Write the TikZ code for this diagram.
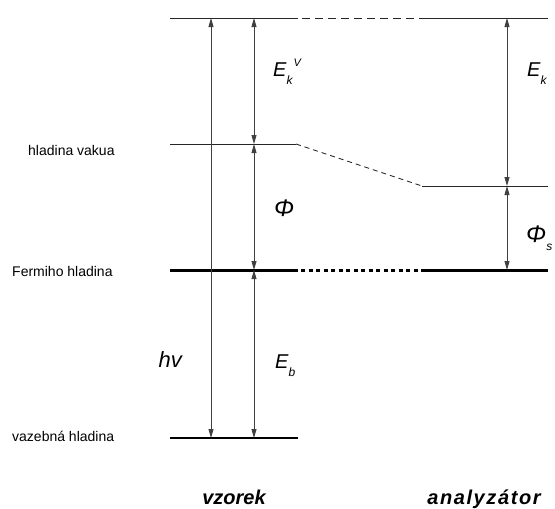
\documentclass[tikz,border=0pt]{standalone}
\usepackage{fontspec}
\setmainfont{Liberation Sans}
\usetikzlibrary{arrows.meta,calc}
\newcommand{\lowidx}[1]{\raisebox{-8pt}{\fontsize{12}{12}\selectfont #1}}
\newcommand{\highidx}[1]{\raisebox{10pt}{\fontsize{11}{11}\selectfont #1}}
\begin{document}
\begin{tikzpicture}[
  x=1pt,y=-1pt,>={Triangle[length=9pt,width=5pt]},
  level/.style={line width=0.9pt,black!85},
  fermi/.style={line width=3pt,black},
  bind/.style={line width=2pt,black},
  linkdash/.style={level,dash pattern=on 8pt off 5pt},
  linkslope/.style={level,dash pattern=on 5pt off 4pt},
  linkdot/.style={fermi,dash pattern=on 4pt off 3.5pt},
  gap/.style={<->,line width=0.8pt,black!75},
  lvl/.style={font=\fontsize{14}{16}\selectfont,anchor=base west,inner sep=0pt},
  sym/.style={font=\fontsize{20}{24}\selectfont\itshape,anchor=base west,inner sep=0pt},
  bigsym/.style={sym,font=\fontsize{24}{28}\selectfont\itshape},
  side/.style={font=\fontsize{20}{24}\selectfont\bfseries\itshape,anchor=base,inner sep=0pt}
]
  \useasboundingbox (0,0) rectangle (555,509);

  % energy levels
  \coordinate (topL)  at (170,18);  \coordinate (topLe) at (298,18);
  \coordinate (topR)  at (420,18);  \coordinate (topRe) at (548,18);
  \coordinate (vacL)  at (170,144); \coordinate (vacLe) at (296,144);
  \coordinate (vacR)  at (422,186); \coordinate (vacRe) at (548,186);
  \coordinate (ferL)  at (170,270); \coordinate (ferLe) at (298,270);
  \coordinate (ferR)  at (422,270); \coordinate (ferRe) at (548,270);
  \coordinate (bindL) at (170,438); \coordinate (bindLe) at (298,438);

  % arrow columns
  \coordinate (colhv) at (211,0);
  \coordinate (colv)  at (254,0);
  \coordinate (cola)  at (507,0);

  \draw[level] (topL) -- (topLe);
  \draw[linkdash] ($(topLe)+(4,0)$) -- (topR);
  \draw[level] (topR) -- (topRe);

  \draw[level] (vacL) -- (vacLe);
  \draw[linkslope] (vacLe) -- (vacR);
  \draw[level] (vacR) -- (vacRe);

  \draw[fermi] (ferL) -- (ferLe);
  \draw[linkdot] ($(ferLe)+(3,0)$) -- (ferR);
  \draw[fermi] (ferR) -- (ferRe);

  \draw[bind] (bindL) -- (bindLe);

  % gaps
  \draw[gap] (topL -| colhv) -- (bindL -| colhv);
  \draw[gap] (topL -| colv) -- (vacL -| colv);
  \draw[gap] (vacL -| colv) -- (ferL -| colv);
  \draw[gap] (ferL -| colv) -- (bindL -| colv);
  \draw[gap] (topR -| cola) -- (vacR -| cola);
  \draw[gap] (vacR -| cola) -- (ferR -| cola);

  % level names
  \node[lvl] (nvac)  at (28,155)  {hladina vakua};
  \node[lvl] (nfer)  at (12,276)  {Fermiho hladina};
  \node[lvl] (nbind) at (12,441)  {vazebná hladina};

  % symbols
  \node[sym] (ekv) at (273,76)  {E\lowidx{k}\kern1pt\highidx{V}};
  \node[bigsym] (phi) at (274,216) {Φ};
  \node[sym] (eb)  at (275,368) {E\lowidx{b}};
  \node[sym,font=\fontsize{22}{26}\selectfont\itshape,anchor=base east] (hv) at (182,367) {hv};
  \node[sym] (ek)  at (527,76)  {E\lowidx{k}};
  \node[bigsym] (phs) at (526,242) {Φ\lowidx{s}};

  % sides
  \node[side] (vzorek) at (234,504) {vzorek};
  \node[side,font=\fontsize{20}{24}\selectfont\bfseries\itshape\addfontfeatures{LetterSpace=8}] (anal) at (484,504) {analyzátor};
\end{tikzpicture}
\end{document}
